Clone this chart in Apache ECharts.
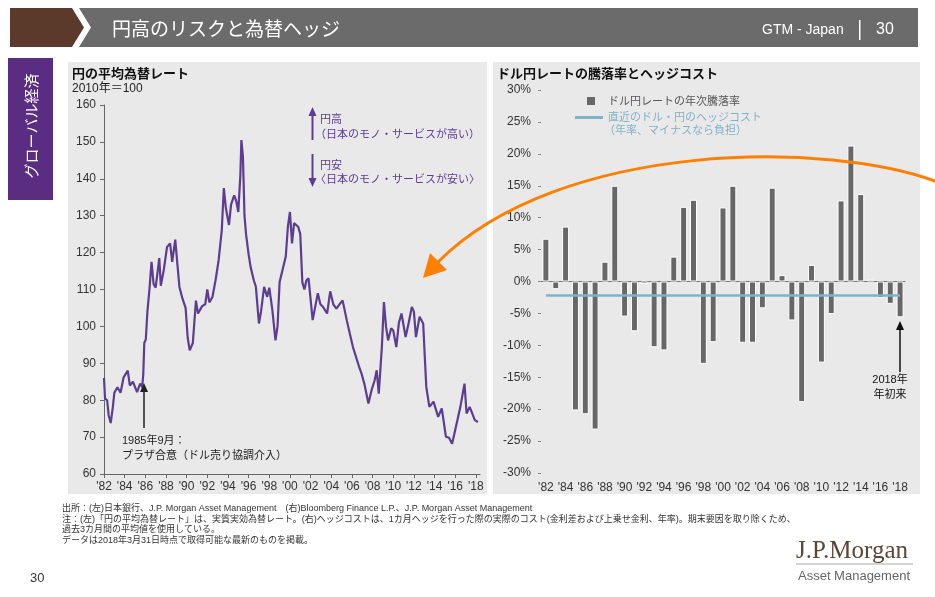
<!DOCTYPE html>
<html>
<head>
<meta charset="utf-8">
<title>円高のリスクと為替ヘッジ</title>
<script src="https://cdn.jsdelivr.net/npm/echarts@6/dist/echarts.min.js"></script>
<style>
  html, body { margin: 0; padding: 0; background: #fff; }
  #main { width: 935px; height: 597px; }
</style>
</head>
<body>
<div id="main"></div>
<script>
// 左：円の平均為替レート（実質実効、2010年=100）
const rateYears = [
  1982.0, 1982.1, 1982.3, 1982.45, 1982.65, 1982.85, 1983.0, 1983.3, 1983.6, 1983.9,
  1984.3, 1984.5, 1984.8, 1985.2, 1985.5, 1985.7, 1985.8, 1985.9, 1986.05, 1986.2,
  1986.4, 1986.6, 1986.8, 1987.0, 1987.2, 1987.35, 1987.5, 1987.8, 1988.1, 1988.4,
  1988.6, 1988.9, 1989.1, 1989.3, 1989.6, 1989.9, 1990.1, 1990.3, 1990.6, 1990.9,
  1991.1, 1991.5, 1991.8, 1992.0, 1992.2, 1992.5, 1992.8, 1993.1, 1993.4, 1993.6,
  1993.8, 1994.1, 1994.3, 1994.6, 1994.8, 1995.0, 1995.2, 1995.3, 1995.45, 1995.6,
  1995.75, 1996.0, 1996.2, 1996.5, 1996.7, 1997.0, 1997.2, 1997.5, 1997.8, 1998.0,
  1998.3, 1998.6, 1998.8, 1999.0, 1999.3, 1999.6, 1999.8, 2000.0, 2000.2, 2000.4,
  2000.8, 2001.0, 2001.2, 2001.4, 2001.6, 2001.8, 2002.2, 2002.7, 2002.95, 2003.2,
  2003.6, 2003.9, 2004.2, 2004.5, 2004.8, 2005.1, 2005.5, 2005.8, 2006.1, 2006.4,
  2006.7, 2006.9, 2007.2, 2007.6, 2007.9, 2008.2, 2008.4, 2008.6, 2008.9, 2009.1,
  2009.3, 2009.5, 2009.8, 2010.0, 2010.3, 2010.55, 2010.8, 2011.2, 2011.5, 2011.8,
  2012.0, 2012.2, 2012.55, 2012.9, 2013.05, 2013.2, 2013.5, 2013.9, 2014.35, 2014.7,
  2015.1, 2015.4, 2015.7, 2016.0, 2016.5, 2016.9, 2017.1, 2017.4, 2017.9, 2018.2
];
const rateIndex = [
  86, 80.5, 80, 76, 73.8, 78, 82, 83.5, 82, 86.2,
  88, 84, 85, 82.2, 84.5, 83.5, 87, 95.5, 96.5, 104,
  110, 117.5, 111.5, 110.5, 115, 118.5, 111, 115.5, 121.5, 122.5,
  117.5, 123.5, 117, 110.7, 107.5, 105, 97, 93.5, 95.5, 107,
  103.5, 105.5, 106, 110, 106.5, 108, 112.5, 118, 126, 137.5,
  132, 127.5, 133, 135.5, 134, 131, 141, 150.5, 146, 130,
  125, 119.5, 116, 112.5, 110.8, 100.8, 104, 110.7, 108, 110.5,
  104.4, 96.2, 100, 112, 115.5, 119, 127, 131, 122.5, 128,
  127, 125, 112, 110, 112.5, 113, 101.7, 109, 106, 105.3,
  103.5, 109.5, 106, 104.8, 106, 107, 101.7, 98, 94.4, 91.7,
  89, 87.5, 84.5, 79.1, 82.7, 85.4, 88.1, 81.8, 94.4, 106.6,
  100, 96.2, 99.5, 98.9, 94.4, 101, 103.5, 97.1, 101, 105.3,
  104, 97.1, 102.6, 100.8, 92, 83.6, 78.2, 79.6, 75.5, 77.8,
  70.1, 69.8, 68.2, 71.9, 78.2, 84.5, 76.4, 78.2, 74.6, 74.1
];
const rateTicks = [1982, 1984, 1986, 1988, 1990, 1992, 1994, 1996, 1998, 2000,
  2002, 2004, 2006, 2008, 2010, 2012, 2014, 2016, 2018];

// 右：ドル円レートの年次騰落率（%）とヘッジコスト
const barYears = ['1982', '1983', '1984', '1985', '1986', '1987', '1988', '1989', '1990', '1991',
  '1992', '1993', '1994', '1995', '1996', '1997', '1998', '1999', '2000', '2001',
  '2002', '2003', '2004', '2005', '2006', '2007', '2008', '2009', '2010', '2011',
  '2012', '2013', '2014', '2015', '2016', '2017', '2018'];
const barChange = [6.7, -1.2, 8.6, -20.2, -20.8, -23.2, 3.1, 15.0, -5.5, -7.8,
  -0.4, -10.3, -10.8, 3.9, 11.7, 12.8, -12.9, -9.5, 11.6, 15.0,
  -9.6, -9.6, -4.2, 14.7, 1.0, -6.1, -18.9, 2.6, -12.7, -5.1,
  12.7, 21.3, 13.7, 0.3, -2.6, -3.5, -5.6];
const hedgeCost = -2.2;

const FONT = '"Liberation Sans", "Noto Sans CJK JP", sans-serif';
const JP = '"Noto Sans CJK JP", sans-serif';
const PURPLE = '#5c3d91';
const BLUE = '#7fb2c9';
const shortYear = v => "'" + String(v).slice(2, 4);

var chartDom = document.getElementById('main');
var myChart = echarts.init(chartDom);
var option;

function txt(x, y, text, size, color, extra) {
  return {
    type: 'text', x: x, y: y, z: 10,
    style: Object.assign({ text: text, fontSize: size, fill: color, fontFamily: FONT, textVerticalAlign: 'middle' }, extra || {})
  };
}
function arrowUp(x, yTop, yBottom, color, w) {
  return [
    { type: 'line', z: 10, shape: { x1: x, y1: yBottom, x2: x, y2: yTop + 8 }, style: { stroke: color, lineWidth: w } },
    { type: 'polygon', z: 10, shape: { points: [[x, yTop], [x - 4, yTop + 9], [x + 4, yTop + 9]] }, style: { fill: color } }
  ];
}
function arrowDown(x, yTop, yBottom, color, w) {
  return [
    { type: 'line', z: 10, shape: { x1: x, y1: yTop, x2: x, y2: yBottom - 8 }, style: { stroke: color, lineWidth: w } },
    { type: 'polygon', z: 10, shape: { points: [[x, yBottom], [x - 4, yBottom - 9], [x + 4, yBottom - 9]] }, style: { fill: color } }
  ];
}

option = {
  backgroundColor: '#fff',
  animation: false,
  textStyle: { fontFamily: FONT },
  grid: [
    { left: 104, top: 105, width: 376, height: 369 },
    { left: 541, top: 90, width: 364, height: 383 }
  ],
  xAxis: [
    {
      type: 'value', gridIndex: 0, min: 1982, max: 2018.4,
      axisLine: { lineStyle: { color: '#666' } },
      axisTick: { length: 4, lineStyle: { color: '#666' }, customValues: rateTicks },
      axisLabel: { color: '#333', fontSize: 12, margin: 7, customValues: rateTicks, formatter: shortYear },
      splitLine: { show: false }
    },
    {
      type: 'category', gridIndex: 1, data: barYears, position: 'bottom',
      axisLine: { show: false, onZero: false },
      axisTick: { show: false },
      axisLabel: { color: '#333', fontSize: 12, margin: 9, interval: 1, formatter: shortYear },
      splitLine: { show: false }
    },
    {
      type: 'category', gridIndex: 1, data: barYears, position: 'top',
      axisLine: { onZero: true, lineStyle: { color: '#777' } },
      axisTick: { inside: true, length: 3, interval: 1, lineStyle: { color: '#777' } },
      axisLabel: { show: false },
      splitLine: { show: false }
    }
  ],
  yAxis: [
    {
      type: 'value', gridIndex: 0, min: 60, max: 160, interval: 10,
      axisLine: { show: true, lineStyle: { color: '#666' } },
      axisTick: { show: true, length: 4, lineStyle: { color: '#666' } },
      axisLabel: { color: '#333', fontSize: 12, margin: 8 },
      splitLine: { show: false }
    },
    {
      type: 'value', gridIndex: 1, min: -30, max: 30, interval: 5,
      axisLine: { show: false },
      axisTick: { show: true, length: 3, lineStyle: { color: '#888' } },
      axisLabel: { color: '#333', fontSize: 12, margin: 10, formatter: '{value}%' },
      splitLine: { show: false }
    }
  ],
  series: [
    {
      name: '円の平均為替レート', type: 'line', xAxisIndex: 0, yAxisIndex: 0,
      data: rateYears.map((y, i) => [y, rateIndex[i]]),
      showSymbol: false, smooth: false,
      lineStyle: { color: PURPLE, width: 2.2 }, z: 3
    },
    {
      name: 'ドル円レートの年次騰落率', type: 'bar', xAxisIndex: 1, yAxisIndex: 1,
      data: barChange, barWidth: 7,
      itemStyle: { color: '#676767', borderColor: '#fff', borderWidth: 1 },
      markLine: {
        silent: true, symbol: 'none', label: { show: false },
        lineStyle: { color: BLUE, width: 2.5, type: 'solid' },
        data: [[{ coord: [barYears[0], hedgeCost] }, { coord: [barYears[barYears.length - 1], hedgeCost] }]]
      },
      z: 3
    }
  ],
  graphic: [
    // header
    { type: 'polygon', shape: { points: [[10, 8], [72, 8], [84, 27.5], [72, 47], [10, 47]] }, style: { fill: '#5b3a2b' } },
    { type: 'polygon', shape: { points: [[79, 8], [918, 8], [918, 47], [79, 47], [91, 27.5]] }, style: { fill: '#6b6b6b' } },
    txt(112, 29, '円高のリスクと為替ヘッジ', 19, '#fff', { fontFamily: JP }),
    txt(762, 30, 'GTM - Japan', 14, '#fff'),
    { type: 'rect', shape: { x: 859, y: 20, width: 1.5, height: 20 }, style: { fill: '#fff' } },
    txt(876, 30, '30', 16, '#fff'),
    // sidebar
    { type: 'rect', shape: { x: 8, y: 58, width: 45, height: 142 }, style: { fill: '#5a2d82' } },
    {
      type: 'text', x: 31, y: 126, rotation: Math.PI / 2,
      style: { text: 'グローバル経済', fontSize: 15, fill: '#fff', fontFamily: JP, textAlign: 'center', textVerticalAlign: 'middle' }
    },
    // panels
    { type: 'rect', z: -10, shape: { x: 68, y: 62, width: 419, height: 432 }, style: { fill: '#e9e9e9' } },
    { type: 'rect', z: -10, shape: { x: 493, y: 62, width: 427, height: 432 }, style: { fill: '#e9e9e9' } },
    // left titles and notes
    txt(72, 73, '円の平均為替レート', 13, '#111', { fontFamily: JP, fontWeight: 'bold' }),
    txt(72, 89, '2010年＝100', 12, '#222'),
    ...arrowUp(312.5, 107, 140, PURPLE, 2),
    ...arrowDown(312.5, 154, 187, PURPLE, 2),
    txt(320, 120, '円高', 11, PURPLE),
    txt(315, 135, '（日本のモノ・サービスが高い）', 11, PURPLE),
    txt(320, 166, '円安', 11, PURPLE),
    txt(315, 180, '〈日本のモノ・サービスが安い〉', 11, PURPLE),
    ...arrowUp(144, 383, 428, '#222', 1.5),
    txt(122, 441, '1985年9月：', 11, '#222'),
    txt(122, 456, 'プラザ合意（ドル売り協調介入）', 11, '#222'),
    // right titles and legend
    txt(497, 73, 'ドル円レートの騰落率とヘッジコスト', 13, '#111', { fontFamily: JP, fontWeight: 'bold' }),
    { type: 'rect', z: 10, shape: { x: 587, y: 97, width: 8, height: 8 }, style: { fill: '#676767' } },
    txt(608, 102, 'ドル円レートの年次騰落率', 11, '#555'),
    { type: 'line', z: 10, shape: { x1: 575, y1: 117.5, x2: 603, y2: 117.5 }, style: { stroke: BLUE, lineWidth: 3 } },
    txt(608, 117.5, '直近のドル・円のヘッジコスト', 11, BLUE),
    txt(604, 131, '（年率、マイナスなら負担）', 11, BLUE),
    ...arrowUp(900, 321, 372, '#111', 1.5),
    txt(890, 380, '2018年', 11, '#111', { textAlign: 'center' }),
    txt(890, 395, '年初来', 11, '#111', { textAlign: 'center' }),
    // orange arc
    {
      type: 'bezierCurve', z: 20,
      shape: { x1: 940, y1: 183, cpx1: 830, cpy1: 140, cpx2: 560, cpy2: 140, x2: 438, y2: 262 },
      style: { stroke: '#ff8000', lineWidth: 3, fill: null }
    },
    { type: 'polygon', z: 20, shape: { points: [[423, 278], [430, 253], [447, 270]] }, style: { fill: '#ff8000' } },
    // footnotes
    txt(62, 509, '出所：(左)日本銀行、J.P. Morgan Asset Management　(右)Bloomberg Finance L.P.、J.P. Morgan Asset Management', 9, '#333'),
    txt(62, 519.5, '注：(左)「円の平均為替レート」は、実質実効為替レート。(右)ヘッジコストは、1カ月ヘッジを行った際の実際のコスト(金利差および上乗せ金利、年率)。期末要因を取り除くため、', 9, '#333'),
    txt(62, 530, '過去3カ月間の平均値を使用している。', 9, '#333'),
    txt(62, 540.5, 'データは2018年3月31日時点で取得可能な最新のものを掲載。', 9, '#333'),
    // page number and logo
    txt(30, 578, '30', 13, '#333'),
    txt(796, 551, 'J.P.Morgan', 25, '#5d4636', { fontFamily: '"Liberation Serif", serif' }),
    { type: 'line', shape: { x1: 796, y1: 564, x2: 913, y2: 564 }, style: { stroke: '#aaa', lineWidth: 1 } },
    txt(798, 576, 'Asset Management', 13, '#666')
  ]
};

option && myChart.setOption(option);
</script>
</body>
</html>
